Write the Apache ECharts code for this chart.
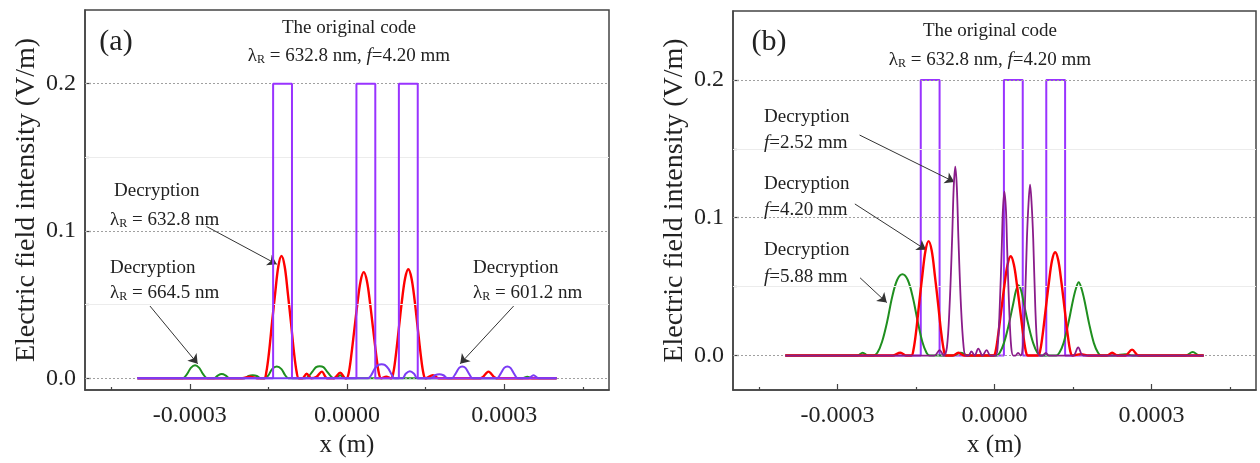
<!DOCTYPE html>
<html>
<head>
<meta charset="utf-8">
<script src="https://cdn.jsdelivr.net/npm/echarts@6/dist/echarts.min.js"></script>
<style>html,body{margin:0;padding:0;background:#fff}#c{width:1260px;height:463px}</style>
</head>
<body>
<div id="c"></div>
<script>
// ---------- DATA (x in micrometres, y in V/m) ----------
const xTicksMajor = [-0.0003, 0, 0.0003];
const xTicksMinor = [-0.00045, -0.00015, 0.00015, 0.00045];
const yTicksMajor = [0, 0.1, 0.2];
const yTicksMinor = [0.05, 0.15];

// original code (both panels)
const codeWave = [[-400,0],[-141,0],[-141,0.2],[-105,0.2],[-105,0],[18,0],[18,0.2],[54,0.2],[54,0],[99,0],[99,0.2],[135,0.2],[135,0],[400,0]];

// panel (a)
const aRed6328 = [[-400,0],[-200,0],[-185,0.001],[-172,0],
  [-158,0],[-154,0.004],[-149,0.017],[-143,0.038],[-137,0.058],[-131,0.076],[-125,0.083],[-119,0.076],[-113,0.058],[-107,0.038],[-101,0.017],[-96,0.004],[-92,0],
  [-85,0],[-77,0.003],[-68,0],[-58,0.001],[-48,0.0045],[-38,0],[-25,0],[-13,0.0038],[-3,0],
  [-1,0],[3,0.003],[8,0.015],[14,0.033],[20,0.051],[26,0.066],[32,0.072],[38,0.066],[44,0.051],[50,0.033],[56,0.015],[61,0.003],[65,0],
  [75,0.001],[84,0],[88,0.003],[93,0.015],[99,0.034],[105,0.053],[111,0.068],[117,0.074],[123,0.068],[129,0.053],[135,0.034],[141,0.015],[146,0.003],[150,0],
  [164,0.002],[175,0],[255,0],[270,0.0045],[285,0],[400,0]];
const aGreen6645 = [[-400,0],[-330,0],[-313,0],[-305,0.003],[-298,0.007],[-290,0.0088],[-282,0.007],[-275,0.003],[-267,0],
  [-254,0],[-246,0.002],[-239,0.0028],[-232,0.002],[-224,0],[-195,0],[-188,0.0015],[-180,0.002],[-172,0.0015],[-165,0],
  [-157,0],[-150,0.002],[-143,0.0062],[-134,0.0079],[-125,0.0062],[-118,0.002],[-112,0],
  [-80,0],[-74,0.001],[-66,0.0045],[-59,0.0075],[-52,0.0082],[-45,0.0075],[-38,0.0045],[-30,0.001],[-25,0],[-18,0.001],[-13,0.002],[-8,0.001],[-3,0],
  [335,0],[344,0.001],[353,0],[400,0]];
const aViolet6012 = [[-400,0],[40,0],[46,0.002],[53,0.0065],[60,0.009],[66,0.0095],[72,0.009],[79,0.0065],[86,0.002],[91,0],
  [106,0],[112,0.003],[120,0.0047],[128,0.003],[134,0],[160,0],[168,0.002],[176,0.0027],[184,0.002],[192,0],
  [200,0],[207,0.003],[214,0.007],[220,0.0079],[226,0.007],[233,0.003],[240,0],
  [286,0],[293,0.003],[300,0.007],[306,0.008],[312,0.007],[319,0.003],[326,0],[346,0],[356,0.002],[366,0],[400,0]];

// panel (b)
const bGreen588 = [[-400,0],[-262,0],[-252,0.002],[-242,0],
  [-232,0],[-224,0.002],[-215,0.010],[-205,0.025],[-196,0.042],[-186,0.055],[-176,0.059],[-166,0.055],[-156,0.042],[-147,0.025],[-138,0.010],[-130,0.002],[-124,0],
  [-80,0],[-65,0.002],[-50,0],
  [4,0],[10,0.002],[18,0.009],[27,0.022],[36,0.038],[41,0.047],[46,0.051],[51,0.047],[56,0.038],[65,0.022],[74,0.009],[82,0.002],[88,0],
  [118,0],[124,0.002],[132,0.009],[141,0.023],[150,0.040],[156,0.049],[161,0.0532],[166,0.049],[172,0.040],[181,0.023],[190,0.009],[198,0.002],[204,0],
  [230,0],[250,0.001],[265,0],[365,0],[379,0.0025],[392,0],[400,0]];
const bRed420 = [[-400,0],[-195,0],[-180,0.002],[-168,0],
  [-159,0],[-155,0.004],[-150,0.017],[-144,0.038],[-138,0.058],[-132,0.076],[-126,0.083],[-120,0.076],[-114,0.058],[-108,0.038],[-102,0.017],[-97,0.004],[-93,0],
  [-80,0],[-69,0.002],[-58,0],
  [-2,0],[2,0.003],[7,0.015],[13,0.033],[19,0.051],[25,0.066],[31,0.072],[37,0.066],[43,0.051],[49,0.033],[55,0.015],[60,0.003],[64,0],
  [83,0],[87,0.003],[92,0.015],[98,0.034],[104,0.053],[110,0.069],[116,0.075],[122,0.069],[128,0.053],[134,0.034],[140,0.015],[145,0.003],[149,0],
  [165,0.001],[180,0],[215,0],[225,0.002],[235,0],[250,0],[263,0.0043],[276,0],[400,0]];
const bPurple252 = [[-400,0],[-115,0],[-105,0.004],[-97,0],
  [-91,0.006],[-86,0.035],[-81,0.085],[-78,0.122],[-75,0.137],[-72,0.122],[-69,0.085],[-64,0.035],[-59,0.006],[-55,0],
  [-50,0],[-44,0.003],[-38,0],[-31,0.005],[-23,0],[-15,0.004],[-8,0],
  [2,0],[6,0.006],[10,0.035],[14,0.080],[16,0.105],[19,0.119],[22,0.105],[24,0.080],[28,0.035],[32,0.006],[36,0],
  [40,0],[45,0.002],[50,0],[54,0.006],[58,0.035],[62,0.085],[65,0.110],[68,0.124],[71,0.110],[74,0.085],[78,0.035],[82,0.006],[86,0],
  [92,0],[98,0.002],[104,0],[150,0],[160,0.006],[170,0],[400,0]];

// annotation arrows [x1(um), y1, x2(um), y2]
const aArrows = [[-268,0.103,-134,0.0774],[-376,0.049,-285,0.0098],[318,0.049,216,0.0098]];
const bArrows = [[-258,0.160,-77,0.126],[-267,0.110,-131,0.0767],[-257,0.0564,-206,0.0384]];

// ---------- CHART ----------
const FONT = '"Liberation Serif","Times New Roman",serif';
const TXT = '#222';
const AX = '#444';
const um = arr => arr.map(p => [p[0] * 1e-6, p[1]]);

const chart = echarts.init(document.getElementById('c'), null, {renderer: 'canvas'});

const grids = [
  {left: 85, top: 10, width: 524, height: 382},
  {left: 733, top: 11, width: 523, height: 381}
];
const yRanges = [[-0.008, 0.25], [-0.025, 0.25]];

const xAxes = [], yAxes = [];
grids.forEach((g, i) => {
  xAxes.push({
    type: 'value', gridIndex: i, min: -0.0005, max: 0.0005, position: 'bottom',
    name: 'x (m)', nameLocation: 'middle', nameGap: 43,
    nameTextStyle: {fontFamily: FONT, fontSize: 25, color: TXT},
    axisLine: {show: true, onZero: false, lineStyle: {color: AX, width: 1.5}},
    axisTick: {show: true, inside: true, length: 6, customValues: xTicksMajor, lineStyle: {color: AX, width: 1.2}},
    axisLabel: {customValues: xTicksMajor, margin: 14, fontFamily: FONT, fontSize: 24, color: TXT,
      formatter: v => v.toFixed(4)},
    splitLine: {show: false}
  });
  xAxes.push({
    type: 'value', gridIndex: i, min: -0.0005, max: 0.0005, position: 'bottom',
    axisLine: {show: false, onZero: false},
    axisTick: {show: true, inside: true, length: 3, customValues: xTicksMinor, lineStyle: {color: AX, width: 1.2}},
    axisLabel: {show: false}, splitLine: {show: false}
  });
  yAxes.push({
    type: 'value', gridIndex: i, min: yRanges[i][0], max: yRanges[i][1], position: 'left',
    name: 'Electric field intensity (V/m)', nameLocation: 'middle', nameGap: 44,
    nameTextStyle: {fontFamily: FONT, fontSize: 28, color: TXT},
    axisLine: {show: true, onZero: false, lineStyle: {color: AX, width: 1.5}},
    axisTick: {show: true, inside: true, length: 6, customValues: yTicksMajor, lineStyle: {color: AX, width: 1.2}},
    axisLabel: {customValues: yTicksMajor, margin: 9, fontFamily: FONT, fontSize: 24, color: TXT,
      formatter: v => v.toFixed(1)},
    splitLine: {show: false}
  });
  yAxes.push({
    type: 'value', gridIndex: i, min: yRanges[i][0], max: yRanges[i][1], position: 'left',
    axisLine: {show: false, onZero: false},
    axisTick: {show: true, inside: true, length: 4, customValues: yTicksMinor, lineStyle: {color: AX, width: 1.2}},
    axisLabel: {show: false}, splitLine: {show: false}
  });
});

function gridLineSeries(i) {
  const d = [];
  yTicksMajor.forEach(v => d.push({yAxis: v, lineStyle: {color: '#a0a0a0', width: 1, type: [2, 2]}}));
  yTicksMinor.forEach(v => d.push({yAxis: v, lineStyle: {color: '#ececec', width: 1, type: 'solid'}}));
  return {
    type: 'line', xAxisIndex: 2 * i, yAxisIndex: 2 * i, data: [[0, 0]], symbol: 'none',
    lineStyle: {opacity: 0}, z: 1, silent: true,
    markLine: {silent: true, symbol: 'none', label: {show: false}, animation: false, data: d}
  };
}
function arrowSeries(i, arrows) {
  return {
    type: 'line', xAxisIndex: 2 * i, yAxisIndex: 2 * i, data: [[0, 0]], symbol: 'none',
    lineStyle: {opacity: 0}, z: 20, silent: true,
    markLine: {
      silent: true, symbol: ['none', 'arrow'], symbolSize: 9, label: {show: false}, animation: false,
      lineStyle: {color: '#333', width: 1, type: 'solid'},
      data: arrows.map(a => [{coord: [a[0] * 1e-6, a[1]]}, {coord: [a[2] * 1e-6, a[3]]}])
    }
  };
}
function curve(i, name, arr, color, width, smooth, z) {
  return {
    name, type: 'line', xAxisIndex: 2 * i, yAxisIndex: 2 * i, data: um(arr),
    showSymbol: false, symbol: 'none', smooth: smooth, z: z,
    lineStyle: {color, width}, animation: false
  };
}

const series = [
  gridLineSeries(0), gridLineSeries(1),
  curve(0, 'Decryption 664.5 nm', aGreen6645, '#1f8f1f', 2, 0.35, 3),
  curve(0, 'Decryption 632.8 nm', aRed6328, '#ff0000', 2.4, 0.35, 4),
  curve(0, 'Original code', codeWave, '#9933ff', 2, false, 5),
  curve(0, 'Decryption 601.2 nm', aViolet6012, '#7b3cf5', 2, 0.35, 6),
  curve(1, 'Original code', codeWave, '#9933ff', 2, false, 3),
  curve(1, 'Decryption f=5.88 mm', bGreen588, '#1f8f1f', 2, 0.35, 4),
  curve(1, 'Decryption f=4.20 mm', bRed420, '#ff0000', 2.4, 0.35, 5),
  curve(1, 'Decryption f=2.52 mm', bPurple252, '#8a1c8a', 1.8, 0.35, 6),
  arrowSeries(0, aArrows), arrowSeries(1, bArrows)
];

const rich = {
  t: {fontFamily: FONT, fontSize: 19, fill: TXT, color: TXT},
  s: {fontFamily: FONT, fontSize: 12, fill: TXT, color: TXT, verticalAlign: 'bottom', padding: [6, 0, 0, 0]},
  i: {fontFamily: FONT, fontSize: 19, fontStyle: 'italic', fill: TXT, color: TXT}
};
function txt(x, y, text, align) {
  return {type: 'text', x, y, z: 30, silent: true,
    style: {text, rich, align: align || 'center', verticalAlign: 'middle', fontFamily: FONT, fontSize: 19, fill: TXT}};
}
const graphics = [
  {type: 'text', x: 116, y: 42, z: 30, style: {text: '(a)', fontFamily: FONT, fontSize: 30, fill: TXT, align: 'center', verticalAlign: 'middle'}},
  {type: 'text', x: 769, y: 42, z: 30, style: {text: '(b)', fontFamily: FONT, fontSize: 30, fill: TXT, align: 'center', verticalAlign: 'middle'}},
  txt(349, 28, '{t|The original code}'),
  txt(349, 56, '{t|λ}{s|R}{t| = 632.8 nm, }{i|f}{t|=4.20 mm}'),
  txt(990, 31, '{t|The original code}'),
  txt(990, 60, '{t|λ}{s|R}{t| = 632.8 nm, }{i|f}{t|=4.20 mm}'),
  txt(114, 191, '{t|Decryption}', 'left'),
  txt(110, 220, '{t|λ}{s|R}{t| = 632.8 nm}', 'left'),
  txt(110, 268, '{t|Decryption}', 'left'),
  txt(110, 293, '{t|λ}{s|R}{t| = 664.5 nm}', 'left'),
  txt(473, 268, '{t|Decryption}', 'left'),
  txt(473, 293, '{t|λ}{s|R}{t| = 601.2 nm}', 'left'),
  txt(764, 117, '{t|Decryption}', 'left'),
  txt(764, 143, '{i|f}{t|=2.52 mm}', 'left'),
  txt(764, 184, '{t|Decryption}', 'left'),
  txt(764, 210, '{i|f}{t|=4.20 mm}', 'left'),
  txt(764, 250, '{t|Decryption}', 'left'),
  txt(764, 277, '{i|f}{t|=5.88 mm}', 'left')
];

chart.setOption({
  animation: false,
  backgroundColor: '#fff',
  grid: grids.map(g => Object.assign({show: true, borderColor: AX, borderWidth: 1.5, backgroundColor: 'transparent', containLabel: false}, g)),
  xAxis: xAxes,
  yAxis: yAxes,
  series: series,
  graphic: graphics
});
</script>
</body>
</html>
